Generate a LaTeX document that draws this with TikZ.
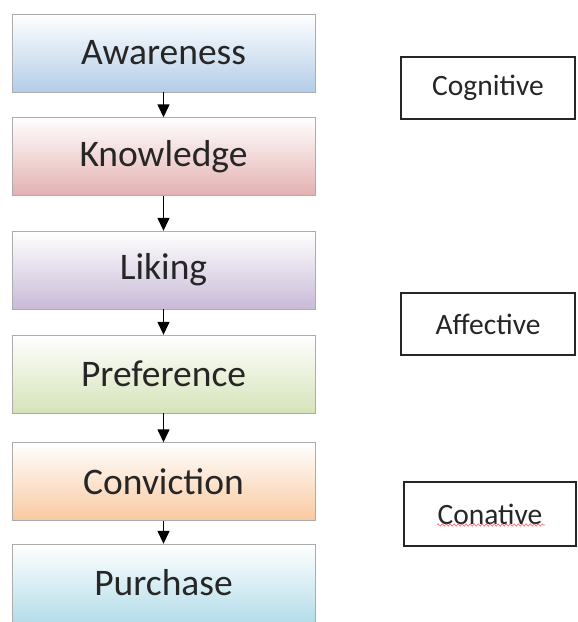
\documentclass[tikz,border=0pt]{standalone}
\usepackage{fontspec}
\setmainfont{Carlito}
\usetikzlibrary{arrows.meta}
\usetikzlibrary{decorations.pathmorphing}
\definecolor{awblue}{HTML}{B3CDE8}
\definecolor{knred}{HTML}{E4B0B0}
\definecolor{lipurple}{HTML}{C9BAD8}
\definecolor{prgreen}{HTML}{D5E3B8}
\definecolor{coorange}{HTML}{F9C9A0}
\definecolor{pucyan}{HTML}{B4DDE9}
\tikzstyle{stage}=[draw=gray!65,minimum width=303pt,minimum height=78pt,inner sep=0pt,text=black!85,font=\fontsize{37.5}{42}\selectfont]
\tikzstyle{group}=[draw=black!85,line width=1.2pt,minimum width=174pt,inner sep=0pt,text=black!85,font=\fontsize{29.5}{34}\selectfont]
\tikzstyle{flow}=[-{Triangle[length=13pt,width=12pt]},line width=1.4pt]

\begin{document}
\begin{tikzpicture}[x=1pt,y=-1pt]
        \useasboundingbox (0,0) rectangle (578,622);
        \foreach \n/\t/\y/\c in {aw/Awareness/53/awblue,kn/Knowledge/156.5/knred,li/Liking/270/lipurple,pr/Preference/374/prgreen,co/Conviction/481.5/coorange,pu/Purchase/583/pucyan}{
          \node[stage,top color=white,bottom color=\c] (\n) at (163.5,\y) {\t};
        }
        \foreach \a/\b in {aw/kn,kn/li,li/pr,pr/co,co/pu}{
          \draw[flow] (\a) -- (\b);
        }
        \node[group,minimum height=62pt] (cog) at (488,88) {Cognitive};
        \node[group,minimum height=62pt] (aff) at (488,324) {Affective};
        \node[group,minimum width=172pt,minimum height=64pt] (con) at (490,514) {Conative};
        \draw[red!60,line width=0.6pt,decorate,decoration={snake,amplitude=1.2pt,segment length=4pt}] (437,525) -- (545,525);
      \end{tikzpicture}
\end{document}
